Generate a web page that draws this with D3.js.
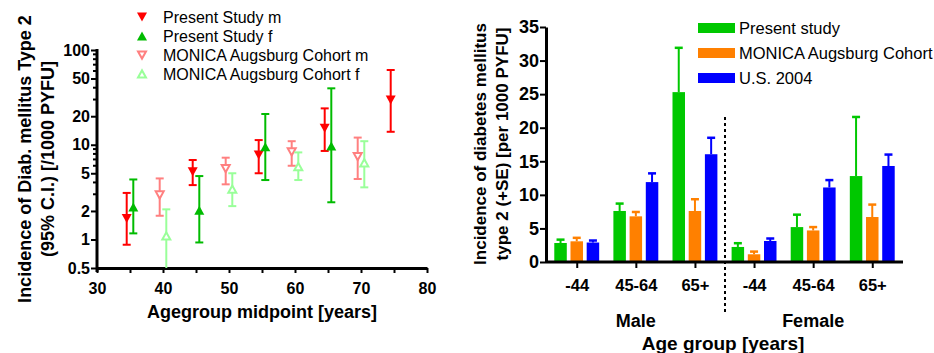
<!DOCTYPE html>
<html>
<head>
<meta charset="utf-8">
<script src="https://cdn.jsdelivr.net/npm/d3@7"></script>
<style>
  body { margin: 0; background: #fff; }
  svg text { font-family: "Liberation Sans", Arial, sans-serif; }
</style>
</head>
<body>
<svg id="chart" width="934" height="353"></svg>
<script>
// ---- Left panel data (age midpoint, incidence, 95% CI) ----
const psMale = [
  { x: 34.5, v: 1.67, lo: 0.88, hi: 3.1 },
  { x: 44.5, v: 5.2, lo: 3.75, hi: 6.9 },
  { x: 54.5, v: 7.8, lo: 5.0, hi: 11.2 },
  { x: 64.5, v: 14.9, lo: 8.6, hi: 24.2 },
  { x: 74.5, v: 29.6, lo: 13.7, hi: 61.5 }
];
const psFemale = [
  { x: 35.5, v: 2.2, lo: 1.16, hi: 4.3 },
  { x: 45.5, v: 2.04, lo: 0.93, hi: 4.67 },
  { x: 55.5, v: 9.5, lo: 4.24, hi: 21.1 },
  { x: 65.5, v: 9.7, lo: 2.47, hi: 39.4 }
];
const monicaMale = [
  { x: 39.5, v: 2.95, lo: 1.78, hi: 4.41 },
  { x: 49.5, v: 5.6, lo: 3.82, hi: 7.3 },
  { x: 59.5, v: 8.4, lo: 6.0, hi: 10.9 },
  { x: 69.5, v: 7.5, lo: 4.35, hi: 11.9 }
];
const monicaFemale = [
  { x: 40.5, v: 1.09, lo: 0.45, hi: 2.08 },
  { x: 50.5, v: 3.4, lo: 2.25, hi: 5.0 },
  { x: 60.5, v: 5.86, lo: 4.24, hi: 8.3 },
  { x: 70.5, v: 6.45, lo: 3.55, hi: 10.9 }
];
const logTicks = [0.5, 1, 2, 5, 10, 20, 50, 100];
const logMinor = [3, 4, 6, 7, 8, 9, 30, 40, 60, 70, 80, 90];

// ---- Right panel data (incidence +SE) ----
const groups = ['M-44', 'M45-64', 'M65+', 'F-44', 'F45-64', 'F65+'];
const groupLabels = ['-44', '45-64', '65+', '-44', '45-64', '65+'];
const seriesNames = ['Present study', 'MONICA Augsburg Cohort', 'U.S. 2004'];
const presentStudy = [2.83, 7.6, 25.3, 2.24, 5.2, 12.8];
const presentStudySE = [0.5, 1.1, 6.6, 0.56, 1.85, 8.8];
const monica = [3.08, 6.8, 7.6, 1.15, 4.7, 6.7];
const monicaSE = [0.52, 0.65, 1.75, 0.4, 0.5, 1.85];
const us2004 = [2.9, 11.9, 16.05, 3.13, 11.1, 14.3];
const us2004SE = [0.3, 1.3, 2.45, 0.37, 1.1, 1.7];

const svg = d3.select('#chart');

// Triangle path
function tri(size, down) {
  const h = size * 0.9;
  return down
    ? `M${-size / 2},${-h / 2}L${size / 2},${-h / 2}L0,${h / 2}Z`
    : `M${-size / 2},${h / 2}L${size / 2},${h / 2}L0,${-h / 2}Z`;
}

// ================= Left panel =================
const xL = d3.scaleLinear([30, 80], [97, 427]);
const yL = d3.scaleLog([0.5, 100], [268, 50]);

const left = svg.append('g');

// Y axis
left.append('g')
  .attr('transform', `translate(${xL(30)},0)`)
  .call(d3.axisLeft(yL).tickValues(logTicks).tickFormat(d3.format('~g')).tickSize(6).tickSizeOuter(0))
  .call((g) => g.select('.domain').remove())
  .call((g) => g.selectAll('.tick line').attr('stroke', '#000').attr('stroke-width', 2))
  .call((g) => g.selectAll('text').attr('font-size', 16).attr('font-weight', 'bold').attr('x', -7));
left.append('g')
  .attr('transform', `translate(${xL(30)},0)`)
  .selectAll('line')
  .data(logMinor)
  .join('line')
  .attr('x1', -4).attr('x2', 0)
  .attr('y1', (d) => yL(d)).attr('y2', (d) => yL(d))
  .attr('stroke', '#000').attr('stroke-width', 2);
left.append('line')
  .attr('x1', xL(30)).attr('x2', xL(30))
  .attr('y1', yL(100) - 1).attr('y2', yL(0.5) + 4)
  .attr('stroke', '#000').attr('stroke-width', 3);

// X axis
left.append('g')
  .attr('transform', `translate(0,${yL(0.5)})`)
  .call(d3.axisBottom(xL).ticks(10).tickSize(5).tickFormat((d) => (d % 10 === 0 ? d : '')).tickSizeOuter(0))
  .call((g) => g.select('.domain').attr('stroke-width', 3))
  .call((g) => g.selectAll('.tick line').attr('stroke-width', 2))
  .call((g) => g.selectAll('text').attr('font-size', 16).attr('font-weight', 'bold').attr('dy', '1.1em'));

// Error bars + markers
function drawSeries(data, color, down, filled) {
  const g = left.append('g');
  const clipLo = (d) => Math.max(d.lo, 0.5);
  g.selectAll('line.v').data(data).join('line')
    .attr('x1', (d) => xL(d.x)).attr('x2', (d) => xL(d.x))
    .attr('y1', (d) => yL(d.hi)).attr('y2', (d) => yL(clipLo(d)))
    .attr('stroke', color).attr('stroke-width', 2);
  g.selectAll('line.hi').data(data).join('line')
    .attr('x1', (d) => xL(d.x) - 4).attr('x2', (d) => xL(d.x) + 4)
    .attr('y1', (d) => yL(d.hi)).attr('y2', (d) => yL(d.hi))
    .attr('stroke', color).attr('stroke-width', 2);
  g.selectAll('line.lo').data(data.filter((d) => d.lo >= 0.5)).join('line')
    .attr('x1', (d) => xL(d.x) - 4).attr('x2', (d) => xL(d.x) + 4)
    .attr('y1', (d) => yL(d.lo)).attr('y2', (d) => yL(d.lo))
    .attr('stroke', color).attr('stroke-width', 2);
  g.selectAll('path').data(data).join('path')
    .attr('transform', (d) => `translate(${xL(d.x)},${yL(d.v)})`)
    .attr('d', filled ? tri(10, down) : tri(8, down))
    .attr('fill', filled ? color : '#fff')
    .attr('stroke', color)
    .attr('stroke-width', filled ? 0 : 2);
}
drawSeries(monicaMale, '#ff8080', true, false);
drawSeries(monicaFemale, '#99ff99', false, false);
drawSeries(psMale, '#ff0000', true, true);
drawSeries(psFemale, '#00bb00', false, true);

// Left legend
const legL = [
  { t: 'Present Study m', c: '#ff0000', down: true, filled: true },
  { t: 'Present Study f', c: '#00bb00', down: false, filled: true },
  { t: 'MONICA Augsburg Cohort m', c: '#ff8080', down: true, filled: false },
  { t: 'MONICA Augsburg Cohort f', c: '#99ff99', down: false, filled: false }
];
const lg = left.append('g').selectAll('g').data(legL).join('g')
  .attr('transform', (d, i) => `translate(142,${17 + i * 19})`);
lg.append('path')
  .attr('d', (d) => (d.filled ? tri(10, d.down) : tri(8, d.down)))
  .attr('fill', (d) => (d.filled ? d.c : '#fff'))
  .attr('stroke', (d) => d.c)
  .attr('stroke-width', (d) => (d.filled ? 0 : 2));
lg.append('text').attr('x', 21).attr('dy', '0.35em').attr('font-size', 16).text((d) => d.t);

// Left titles
left.append('text')
  .attr('transform', 'translate(31,159) rotate(-90)')
  .attr('text-anchor', 'middle').attr('font-size', 18).attr('font-weight', 'bold')
  .text('Incidence of Diab. mellitus Type 2');
left.append('text')
  .attr('transform', 'translate(54,159) rotate(-90)')
  .attr('text-anchor', 'middle').attr('font-size', 18).attr('font-weight', 'bold')
  .text('(95% C.I.) [/1000 PYFU]');
left.append('text')
  .attr('x', 262).attr('y', 318)
  .attr('text-anchor', 'middle').attr('font-size', 18).attr('font-weight', 'bold')
  .text('Agegroup midpoint [years]');

// ================= Right panel =================
const xR = d3.scalePoint(groups, [546, 903]).padding(0.52);
const yR = d3.scaleLinear([0, 35], [262, 27]);
const colors = ['#00c800', '#ff8000', '#0000ff'];
const values = [presentStudy, monica, us2004];
const errors = [presentStudySE, monicaSE, us2004SE];
const offsets = [-16.2, 0, 16.2];
const barW = 12.5;

const right = svg.append('g');

const bars = [];
values.forEach((vals, s) => {
  vals.forEach((v, i) => bars.push({ s, g: groups[i], v, se: errors[s][i] }));
});

// Error bars (upper only)
right.selectAll('line.err').data(bars).join('line')
  .attr('x1', (d) => xR(d.g) + offsets[d.s]).attr('x2', (d) => xR(d.g) + offsets[d.s])
  .attr('y1', (d) => yR(d.v)).attr('y2', (d) => yR(d.v + d.se))
  .attr('stroke', (d) => colors[d.s]).attr('stroke-width', 2);
right.selectAll('line.cap').data(bars).join('line')
  .attr('x1', (d) => xR(d.g) + offsets[d.s] - 4).attr('x2', (d) => xR(d.g) + offsets[d.s] + 4)
  .attr('y1', (d) => yR(d.v + d.se)).attr('y2', (d) => yR(d.v + d.se))
  .attr('stroke', (d) => colors[d.s]).attr('stroke-width', 2.5);
right.selectAll('rect.bar').data(bars).join('rect')
  .attr('x', (d) => xR(d.g) + offsets[d.s] - barW / 2)
  .attr('width', barW)
  .attr('y', (d) => yR(d.v))
  .attr('height', (d) => yR(0) - yR(d.v))
  .attr('fill', (d) => colors[d.s]);

// Y axis
right.append('g')
  .attr('transform', `translate(546,0)`)
  .call(d3.axisLeft(yR).tickValues(d3.range(0, 36, 5)).tickSize(6).tickSizeOuter(0))
  .call((g) => g.select('.domain').attr('stroke-width', 3))
  .call((g) => g.selectAll('.tick line').attr('stroke-width', 2))
  .call((g) => g.selectAll('text').attr('font-size', 18).attr('font-weight', 'bold').attr('x', -7));

// X axis
right.append('g')
  .attr('transform', `translate(0,${yR(0)})`)
  .call(d3.axisBottom(xR).tickSize(6).tickSizeOuter(0).tickFormat((d, i) => groupLabels[i]))
  .call((g) => g.select('.domain').attr('stroke-width', 3).attr('d', 'M546,0H903'))
  .call((g) => g.selectAll('.tick line').attr('stroke-width', 2))
  .call((g) => g.selectAll('text').attr('font-size', 16.5).attr('font-weight', 'bold').attr('dy', '1.2em'));

// Divider
right.append('line')
  .attr('x1', 725).attr('x2', 725).attr('y1', 117).attr('y2', 312)
  .attr('stroke', '#000').attr('stroke-width', 2).attr('stroke-dasharray', '3,3');

// Sex labels and titles
right.append('text').attr('x', (xR('M-44') + xR('M65+')) / 2).attr('y', 327)
  .attr('text-anchor', 'middle').attr('font-size', 18).attr('font-weight', 'bold').text('Male');
right.append('text').attr('x', (xR('F-44') + xR('F65+')) / 2).attr('y', 327)
  .attr('text-anchor', 'middle').attr('font-size', 18).attr('font-weight', 'bold').text('Female');
right.append('text').attr('x', 723).attr('y', 350)
  .attr('text-anchor', 'middle').attr('font-size', 19).attr('font-weight', 'bold').text('Age group [years]');
right.append('text')
  .attr('transform', 'translate(486,144) rotate(-90)')
  .attr('text-anchor', 'middle').attr('font-size', 17).attr('font-weight', 'bold')
  .text('Incidence of diabetes mellitus');
right.append('text')
  .attr('transform', 'translate(508,144) rotate(-90)')
  .attr('text-anchor', 'middle').attr('font-size', 17).attr('font-weight', 'bold')
  .text('type 2 (+SE) [per 1000 PYFU]');

// Right legend
const lr = right.append('g').selectAll('g').data(seriesNames).join('g')
  .attr('transform', (d, i) => `translate(698,${28 + i * 25})`);
lr.append('rect').attr('y', -5).attr('width', 37).attr('height', 10).attr('fill', (d, i) => colors[i]);
lr.append('text').attr('x', 41).attr('dy', '0.35em').attr('font-size', 16.5).text((d) => d);
</script>
</body>
</html>
